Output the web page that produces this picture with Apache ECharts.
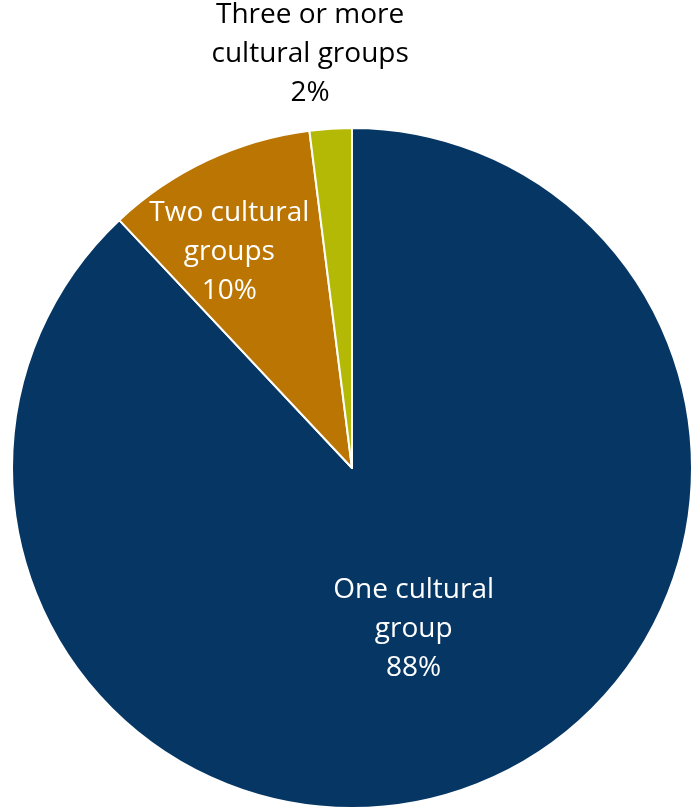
<!DOCTYPE html>
<html>
<head>
<meta charset="utf-8">
<style>
  html, body { margin: 0; padding: 0; background: #ffffff; }
  #chart { width: 692px; height: 808px; }
</style>
<script src="https://cdn.jsdelivr.net/npm/echarts@6/dist/echarts.min.js"></script>
</head>
<body>
<div id="chart"></div>
<script>
// Share of people by number of cultural groups they identify with
const categories = ['One cultural\ngroup', 'Two cultural\ngroups', 'Three or more\ncultural groups'];
const shares = [88, 10, 2];
const colors = ['#063764', '#BB7502', '#B4B905'];
const labelColors = ['#ffffff', '#ffffff', '#000000'];
// label nudges away from the default inside anchor, per slice
const labelShift = [[-2, 0], [-49, -59], [-31, -241]];

const chart = echarts.init(document.getElementById('chart'), null, { renderer: 'canvas' });

chart.setOption({
  animation: false,
  series: [{
    type: 'pie',
    center: [352, 468],
    radius: [0, 340],
    startAngle: 90,
    clockwise: true,
    avoidLabelOverlap: false,
    itemStyle: { borderColor: '#ffffff', borderWidth: 2 },
    label: {
      show: true,
      position: 'inside',
      fontFamily: '"Open Sans", Lato, sans-serif',
      fontSize: 28,
      lineHeight: 39,
      align: 'center',
      formatter: p => p.name + '\n' + p.value + '%'
    },
    labelLine: { show: false },
    emphasis: { disabled: true },
    labelLayout: p => ({ dx: labelShift[p.dataIndex][0], dy: labelShift[p.dataIndex][1] }),
    data: categories.map((name, i) => ({
      name: name,
      value: shares[i],
      itemStyle: { color: colors[i] },
      label: { color: labelColors[i] }
    }))
  }]
});
</script>
</body>
</html>
